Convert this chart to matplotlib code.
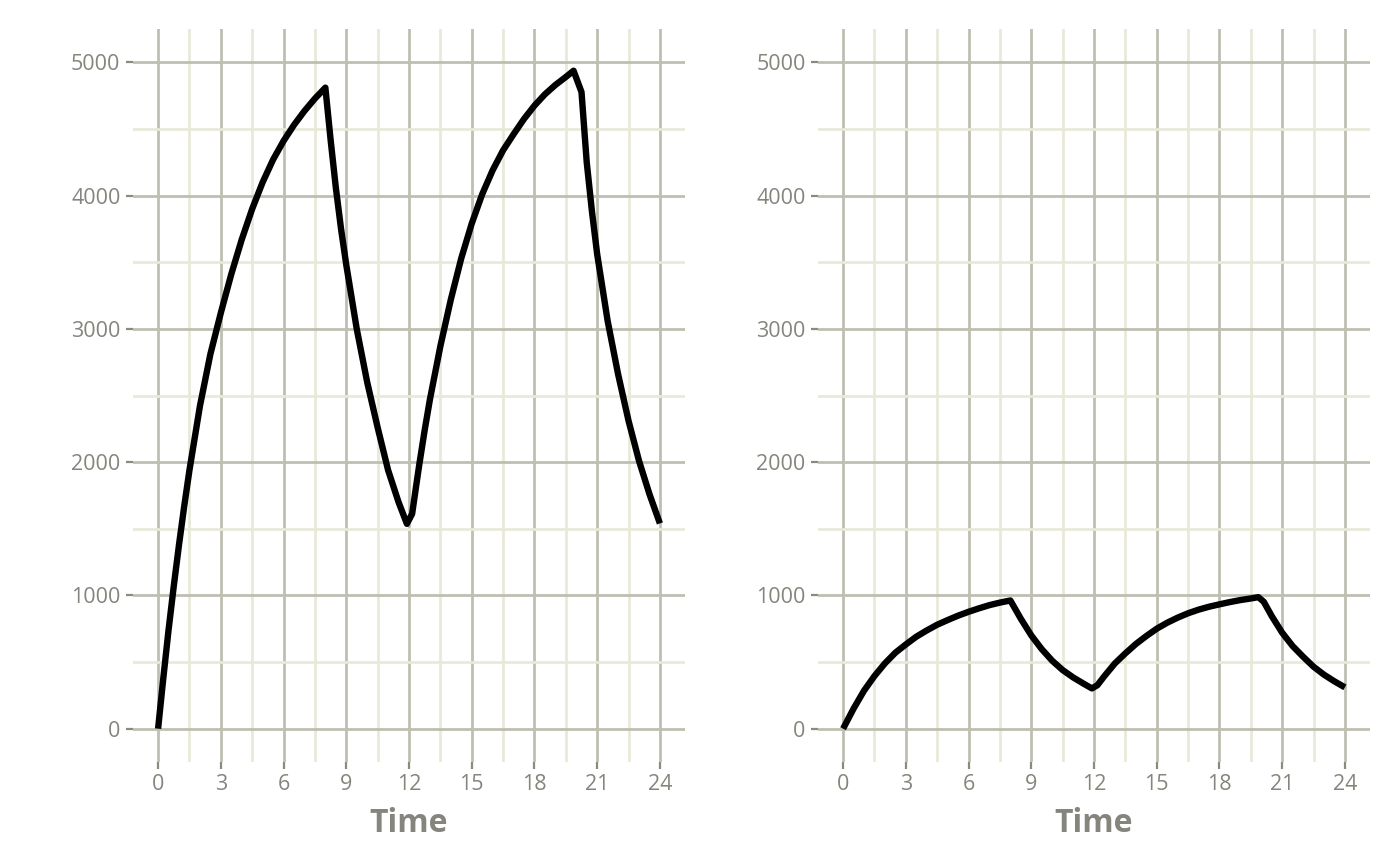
import numpy as np
import matplotlib
matplotlib.use("Agg")
from matplotlib import pyplot as plt

plt.rcParams["font.family"] = ["Open Sans", "DejaVu Sans"]

# values (time in hours)
time_left = [0, 0.25, 0.5, 0.75, 1, 1.25, 1.5, 2, 2.5, 3, 3.5, 4, 4.5, 5, 5.5, 6, 6.5, 7, 7.5, 8,
             8.25, 8.5, 8.75, 9, 9.5, 10, 10.5, 11, 11.5, 11.9, 12.15,
             12.35, 12.5, 12.75, 13, 13.5, 14, 14.5, 15, 15.5, 16, 16.5, 17, 17.5, 18, 18.5, 19, 19.5, 19.87,
             20.25, 20.5, 20.75, 21, 21.5, 22, 22.5, 23, 23.5, 24]
conc_left = [0, 380, 740, 1070, 1380, 1670, 1940, 2420, 2810, 3120, 3410, 3670, 3900, 4100, 4270, 4410, 4530, 4635, 4728, 4810,
             4420, 4060, 3750, 3480, 3000, 2600, 2260, 1940, 1700, 1537, 1612,
             1830, 1990, 2240, 2470, 2870, 3220, 3530, 3790, 4010, 4190, 4340, 4460, 4575, 4675, 4760, 4830, 4890, 4937,
             4777, 4250, 3880, 3560, 3060, 2660, 2310, 2010, 1760, 1540]

time_right = [0, 0.5, 1, 1.5, 2, 2.5, 3, 3.5, 4, 4.5, 5, 5.5, 6, 6.5, 7, 7.5, 8,
              8.5, 9, 9.5, 10, 10.5, 11, 11.5, 11.9, 12.16,
              12.5, 13, 13.5, 14, 14.5, 15, 15.5, 16, 16.5, 17, 17.5, 18, 18.5, 19, 19.5, 19.86,
              20.12, 20.5, 21, 21.5, 22, 22.5, 23, 23.5, 24]
conc_right = [0, 150, 285, 395, 490, 570, 632, 690, 737, 780, 815, 848, 877, 903, 927, 946, 962,
              825, 700, 597, 510, 440, 385, 338, 302, 326,
              395, 490, 565, 635, 695, 750, 795, 833, 866, 893, 915, 933, 950, 965, 977, 987,
              952, 845, 720, 620, 540, 465, 405, 355, 310]

x_ticks = list(range(0, 25, 3))
y_ticks = list(range(0, 5001, 1000))

major_col = "#bebeb2"
minor_col = "#e9e9da"
text_col = "#85857d"

fig = plt.figure(figsize=(14, 8.65), dpi=100)
panels = [
    (fig.add_axes([133 / 1400, 1 - 762 / 865, 552 / 1400, 733 / 865]), time_left, conc_left),
    (fig.add_axes([818 / 1400, 1 - 762 / 865, 552 / 1400, 733 / 865]), time_right, conc_right),
]

for ax, t, c in panels:
    ax.plot(t, c, color="black", linewidth=4.6, solid_joinstyle="round", solid_capstyle="butt", zorder=3)
    ax.set_xlim(-1.2, 25.2)
    ax.set_ylim(-250, 5250)
    ax.set_xticks(x_ticks)
    ax.set_xticks(np.arange(1.5, 24, 3), minor=True)
    ax.set_yticks(y_ticks)
    ax.set_yticks(np.arange(500, 5000, 1000), minor=True)
    ax.grid(True, which="major", color=major_col, linewidth=2)
    ax.grid(True, which="minor", color=minor_col, linewidth=2)
    ax.set_axisbelow(True)
    for s in ax.spines.values():
        s.set_visible(False)
    ax.tick_params(which="major", length=5, width=1.6, color="#8a8a82",
                   labelcolor=text_col, labelsize=15.5, pad=4)
    ax.tick_params(which="minor", length=0)
    ax.set_xlabel("Time", fontsize=23, fontweight="bold", color=text_col, labelpad=8)

fig.savefig("out.png", dpi=100, facecolor="white")
